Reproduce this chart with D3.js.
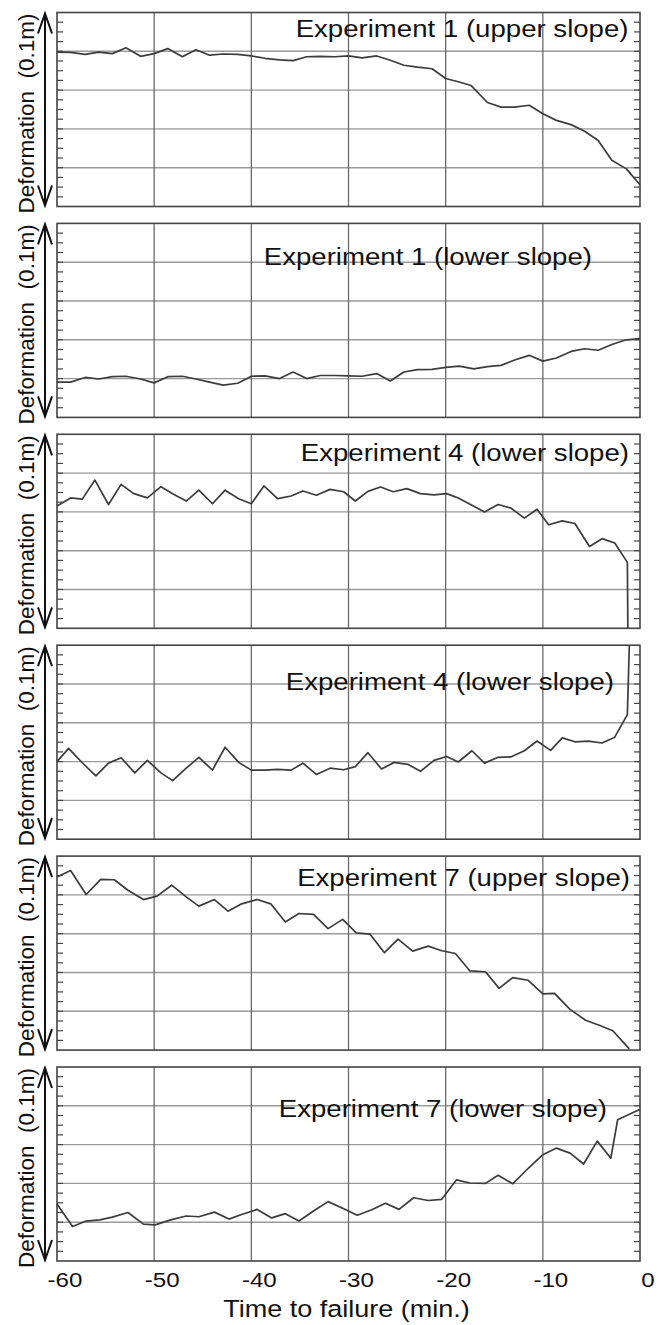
<!DOCTYPE html>
<html>
<head>
<meta charset="utf-8">
<script src="https://cdn.jsdelivr.net/npm/d3@7"></script>
<style>
body { margin: 0; background: #fff; }
svg text { font-family: "Liberation Sans", Arial, Helvetica, sans-serif; fill: #111; }
</style>
</head>
<body>
<div id="chart"></div>
<script>
// x ticks (minutes before failure)
const xTicks = [-60, -50, -40, -30, -20, -10, 0];
const panelTitles = [
	"Experiment 1 (upper slope)",
	"Experiment 1 (lower slope)",
	"Experiment 4 (lower slope)",
	"Experiment 4 (lower slope)",
	"Experiment 7 (upper slope)",
	"Experiment 7 (lower slope)"
];
const yLabel = "Deformation  (0.1m)";
const xLabel = "Time to failure (min.)";

// [time, deformation], deformation in grid units (0..5)
const exp1Upper = [[-60,3.98],[-58.6,3.97],[-57.1,3.92],[-55.7,3.98],[-54.3,3.94],[-52.9,4.09],[-51.4,3.87],[-50,3.94],[-48.6,4.07],[-47.1,3.86],[-45.7,4.04],[-44.3,3.90],[-42.9,3.93],[-41.4,3.92],[-40,3.88],[-38.6,3.82],[-37.1,3.78],[-35.7,3.76],[-34.3,3.86],[-32.9,3.87],[-31.4,3.86],[-30,3.88],[-28.6,3.83],[-27.1,3.88],[-25.7,3.77],[-24.3,3.64],[-22.9,3.59],[-21.4,3.55],[-20,3.30],[-18.6,3.21],[-17.4,3.12],[-15.7,2.68],[-14.3,2.56],[-12.9,2.56],[-11.4,2.61],[-10,2.39],[-8.6,2.22],[-7.1,2.11],[-5.7,1.94],[-4.3,1.70],[-2.9,1.19],[-1.4,0.97],[0,0.56]];
const exp1Lower = [[-60,0.91],[-58.6,0.91],[-57.1,1.03],[-55.7,0.99],[-54.3,1.05],[-52.9,1.06],[-51.4,0.99],[-50,0.89],[-48.6,1.05],[-47.1,1.06],[-45.7,0.99],[-44.3,0.91],[-42.9,0.83],[-41.4,0.88],[-40,1.06],[-38.6,1.07],[-37.1,1.00],[-35.7,1.17],[-34.3,1.00],[-32.9,1.08],[-31.4,1.08],[-30,1.07],[-28.6,1.06],[-27.1,1.13],[-25.7,0.94],[-24.3,1.17],[-22.9,1.23],[-21.4,1.24],[-20,1.29],[-18.6,1.32],[-17.1,1.25],[-15.7,1.31],[-14.3,1.34],[-12.9,1.48],[-11.4,1.60],[-10,1.45],[-8.6,1.53],[-7.1,1.70],[-5.7,1.77],[-4.3,1.73],[-2.9,1.88],[-1.4,2.00],[0,2.03]];
const exp4LowerA = [[-60,3.15],[-58.6,3.36],[-57.4,3.33],[-56.1,3.82],[-54.7,3.19],[-53.4,3.71],[-52.1,3.47],[-50.7,3.36],[-49.3,3.65],[-48.1,3.47],[-46.7,3.28],[-45.4,3.56],[-44.0,3.21],[-42.7,3.56],[-41.3,3.34],[-40.0,3.21],[-38.7,3.67],[-37.3,3.34],[-35.9,3.41],[-34.7,3.54],[-33.3,3.43],[-31.9,3.58],[-30.5,3.52],[-29.3,3.28],[-28.0,3.53],[-26.7,3.64],[-25.4,3.52],[-24.0,3.60],[-22.6,3.47],[-21.2,3.44],[-19.9,3.47],[-18.7,3.36],[-17.3,3.17],[-16.0,3.00],[-14.6,3.19],[-13.3,3.10],[-11.9,2.84],[-10.6,3.07],[-9.4,2.67],[-8.0,2.77],[-6.7,2.70],[-5.2,2.11],[-3.9,2.31],[-2.6,2.20],[-1.3,1.70],[-1.25,0]];
const exp4LowerB = [[-60,2.00],[-58.8,2.34],[-57.4,1.97],[-56.0,1.63],[-54.7,1.96],[-53.4,2.10],[-52.0,1.71],[-50.7,2.03],[-49.3,1.71],[-48.1,1.51],[-46.7,1.83],[-45.4,2.11],[-44.0,1.78],[-42.7,2.37],[-41.3,1.98],[-40.0,1.78],[-38.6,1.78],[-37.3,1.80],[-35.9,1.78],[-34.7,1.96],[-33.3,1.67],[-31.9,1.83],[-30.5,1.79],[-29.3,1.87],[-28.0,2.23],[-26.6,1.81],[-25.3,1.98],[-23.9,1.93],[-22.6,1.75],[-21.2,2.03],[-19.9,2.13],[-18.7,1.99],[-17.3,2.28],[-16.0,1.96],[-14.6,2.11],[-13.3,2.12],[-11.9,2.28],[-10.6,2.53],[-9.2,2.29],[-8.0,2.61],[-6.7,2.51],[-5.3,2.53],[-3.9,2.48],[-2.6,2.63],[-1.3,3.21],[-1.1,5]];
const exp7Upper = [[-60,4.46],[-58.6,4.63],[-57.0,4.01],[-55.5,4.40],[-54.1,4.39],[-52.7,4.12],[-51.1,3.88],[-49.7,3.97],[-48.2,4.25],[-46.7,3.95],[-45.4,3.71],[-43.8,3.88],[-42.4,3.58],[-41.0,3.77],[-39.4,3.88],[-38.0,3.77],[-36.5,3.30],[-35.1,3.52],[-33.6,3.50],[-32.1,3.13],[-30.6,3.37],[-29.2,3.02],[-27.8,2.99],[-26.3,2.51],[-24.9,2.86],[-23.4,2.55],[-21.8,2.68],[-20.4,2.56],[-19.0,2.49],[-17.5,2.04],[-15.9,2.02],[-14.5,1.59],[-13.1,1.87],[-11.5,1.80],[-10.0,1.45],[-8.8,1.46],[-7.2,1.05],[-5.6,0.77],[-4.2,0.64],[-2.8,0.50],[-1.1,0.03]];
const exp7Lower = [[-60,1.47],[-58.4,0.89],[-57.0,1.03],[-55.6,1.06],[-54.3,1.13],[-52.7,1.25],[-51.1,0.95],[-49.9,0.93],[-48.3,1.06],[-46.7,1.16],[-45.4,1.14],[-43.8,1.26],[-42.3,1.08],[-41.0,1.20],[-39.4,1.33],[-37.9,1.11],[-36.5,1.22],[-35.1,1.03],[-33.6,1.29],[-32.1,1.53],[-30.6,1.36],[-29.1,1.18],[-27.6,1.32],[-26.2,1.49],[-24.8,1.33],[-23.3,1.63],[-21.8,1.56],[-20.4,1.59],[-18.9,2.09],[-17.5,2.01],[-15.9,2.00],[-14.6,2.21],[-13.1,1.99],[-11.5,2.39],[-10.0,2.74],[-8.6,2.91],[-7.2,2.78],[-5.8,2.50],[-4.4,3.09],[-3.0,2.65],[-2.3,3.64],[0,3.91]];

const allSeries = [exp1Upper, exp1Lower, exp4LowerA, exp4LowerB, exp7Upper, exp7Lower];

const width = 665, height = 1325;
const left = 57, right = 640;
const top0 = 12.5, pitch = 210.9, ph = 194;
const stretch = 1.15; // the figure's lettering is a bit wider than Arial

// title placement: [right end x, baseline offset from panel top]
const titlePos = [[628.5, 24], [592, 42], [629, 27], [614, 44.5], [630, 29.5], [607, 49.5]];

const svg = d3.select("#chart").append("svg")
	.attr("width", width).attr("height", height);

const x = d3.scaleLinear().domain([-60, 0]).range([left, right]);
const y = d3.scaleLinear().domain([0, 5]).range([ph, 0]);

const line = d3.line().x(d => x(d[0])).y(d => y(d[1]));
const minor = d3.range(1, 20).map(i => i / 4);

allSeries.forEach((data, i) => {
	const g = svg.append("g").attr("transform", `translate(0,${top0 + i * pitch})`);

	// horizontal grid
	g.append("g").selectAll("line")
		.data([1, 2, 3, 4]).join("line")
		.attr("x1", left).attr("x2", right)
		.attr("y1", d => y(d)).attr("y2", d => y(d))
		.attr("stroke", "#9a9a9a").attr("stroke-width", 1.4);

	// vertical grid
	g.append("g").selectAll("line")
		.data(xTicks.slice(1, -1)).join("line")
		.attr("x1", d => x(d)).attr("x2", d => x(d))
		.attr("y1", 0).attr("y2", ph)
		.attr("stroke", "#6a6a6a").attr("stroke-width", 1.3);

	// minor ticks, both sides
	g.append("g").selectAll("line")
		.data(minor).join("line")
		.attr("x1", left).attr("x2", left + 6)
		.attr("y1", d => y(d)).attr("y2", d => y(d))
		.attr("stroke", "#444").attr("stroke-width", 1.2);
	g.append("g").selectAll("line")
		.data(minor).join("line")
		.attr("x1", right - 6).attr("x2", right)
		.attr("y1", d => y(d)).attr("y2", d => y(d))
		.attr("stroke", "#444").attr("stroke-width", 1.2);

	// frame
	g.append("rect")
		.attr("x", left).attr("y", 0)
		.attr("width", right - left).attr("height", ph)
		.attr("fill", "none").attr("stroke", "#444").attr("stroke-width", 1.6);

	// data
	g.append("path").datum(data)
		.attr("d", line)
		.attr("fill", "none")
		.attr("stroke", "#3c3c3c").attr("stroke-width", 1.7)
		.attr("stroke-linejoin", "round");

	// panel title
	g.append("text")
		.attr("transform", `translate(${titlePos[i][0]},${titlePos[i][1]}) scale(${stretch},1)`)
		.attr("text-anchor", "end")
		.style("font-size", "24px")
		.text(panelTitles[i]);

	// double arrow for the y axis
	const ax = 45, yt = y(5) + 1, yb = y(0) - 1;
	g.append("path")
		.attr("d", `M${ax},${yt}V${yb}M${ax - 7},${yt + 20}L${ax},${yt}L${ax + 7},${yt + 20}M${ax - 7},${yb - 20}L${ax},${yb}L${ax + 7},${yb - 20}`)
		.attr("fill", "none").attr("stroke", "#111").attr("stroke-width", 2);

	g.append("text")
		.attr("transform", `translate(33.5,${ph / 2 + 4}) rotate(-90)`)
		.attr("text-anchor", "middle")
		.style("font-size", "22.5px")
		.style("white-space", "pre")
		.text(yLabel);

	if (i === allSeries.length - 1) {
		g.append("g").selectAll("text")
			.data(xTicks).join("text")
			.attr("transform", d => `translate(${x(d) + 8},${ph + 26}) scale(${stretch},1)`)
			.attr("text-anchor", "middle")
			.style("font-size", "21px")
			.text(d => String(d));
		g.append("text")
			.attr("transform", `translate(${(left + right) / 2 - 2},${ph + 56}) scale(${stretch},1)`)
			.attr("text-anchor", "middle")
			.style("font-size", "23.5px")
			.text(xLabel);
	}
});
</script>
</body>
</html>
